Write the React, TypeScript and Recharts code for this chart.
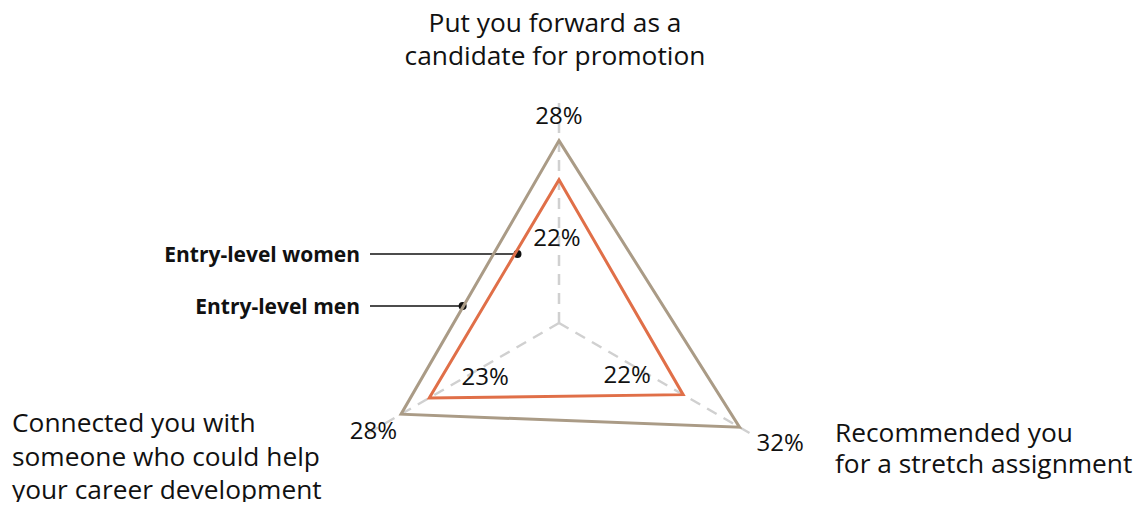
import React from 'react'
import { RadarChart, Radar, PolarGrid, PolarAngleAxis, PolarRadiusAxis } from 'recharts'

// categories (clockwise from top)
const categories = [
  ['Put you forward as a', 'candidate for promotion'],
  ['Recommended you', 'for a stretch assignment'],
  ['Connected you with', 'someone who could help', 'your career development'],
]
const menValues = [28, 32, 28]
const womenValues = [22, 22, 23]
const seriesNames = ['Entry-level women', 'Entry-level men']

const data = categories.map((c, i) => ({
  key: c.join(' '),
  men: menValues[i],
  women: womenValues[i],
}))

const W = 1130
const H = 502
const CX = 551
const CY = 315
const R = 228
const MAX = 35
const FONT = '"Open Sans", Lato, sans-serif'

const MEN = '#aa9b86'
const WOMEN = '#e06f48'

// same polar mapping as the chart (start 90deg, clockwise)
const polar = (value: number, index: number) => {
  const ang = ((90 - index * 120) * Math.PI) / 180
  const r = (value / MAX) * R
  return { x: CX + r * Math.cos(ang), y: CY - r * Math.sin(ang) }
}
const along = (vals: number[], a: number, b: number, t: number) => {
  const p = polar(vals[a], a)
  const q = polar(vals[b], b)
  return { x: p.x + (q.x - p.x) * t, y: p.y + (q.y - p.y) * t }
}

const tickPlace = [
  { x: 547, y: 24, anchor: 'middle', gap: 33 },
  { x: 827, y: 434, anchor: 'start', gap: 31 },
  { x: 4, y: 424, anchor: 'start', gap: 33.5 },
]

const AngleTick = ({ index }: any) => {
  const p = tickPlace[index]
  const lines = categories[index]
  return (
    <text x={p.x} y={p.y} textAnchor={p.anchor as any} fill="#111" fontSize={26.3} fontFamily={FONT}>
      {lines.map((l, i) => (
        <tspan key={i} x={p.x} dy={i === 0 ? 0 : p.gap}>
          {l}
        </tspan>
      ))}
    </text>
  )
}

const menOff = [
  { dx: 0, dy: -17, a: 'middle' },
  { dx: 17, dy: 24, a: 'start' },
  { dx: -4, dy: 25, a: 'end' },
]
const womenOff = [
  { dx: -2, dy: 66, a: 'middle' },
  { dx: -56, dy: -12, a: 'middle' },
  { dx: 56, dy: -13, a: 'middle' },
]

const valueLabel = (vals: number[], offs: any[]) => (props: any) => {
  const { cx, cy, index } = props
  const o = offs[index]
  return (
    <text key={index} x={cx + o.dx} y={cy + o.dy} textAnchor={o.a} fontSize={24} fill="#111" fontFamily={FONT}>
      {vals[index]}%
    </text>
  )
}

const App = () => {
  const wDot = along(womenValues, 0, 2, 0.32)
  const mDot = along(menValues, 0, 2, 0.61)
  return (
    <div style={{ width: W, height: H, marginBottom: -8 }}>
      <style>{'.recharts-surface{overflow:visible}'}</style>
      <RadarChart width={W} height={H} cx={CX} cy={CY} outerRadius={R} data={data} margin={{ top: 0, right: 0, bottom: 0, left: 0 }}>
        <PolarGrid gridType="polygon" polarRadius={[0]} stroke="#d0d0d0" strokeWidth={2.5} strokeDasharray="11 8" />
        <PolarAngleAxis dataKey="key" tick={<AngleTick />} tickLine={false} axisLine={false} />
        <PolarRadiusAxis domain={[0, MAX]} tick={false} axisLine={false} />
        <Radar dataKey="men" stroke={MEN} strokeWidth={3} fill="none" fillOpacity={0} isAnimationActive={false} dot={valueLabel(menValues, menOff)} />
        <Radar dataKey="women" stroke={WOMEN} strokeWidth={3} fill="none" fillOpacity={0} isAnimationActive={false} dot={valueLabel(womenValues, womenOff)} />
        <g>
          <text x={352} y={254} textAnchor="end" fontSize={21} fontWeight={700} fill="#111" fontFamily={FONT}>{seriesNames[0]}</text>
          <line x1={362} y1={246} x2={wDot.x} y2={246} stroke="#111" strokeWidth={1.5} />
          <circle cx={wDot.x} cy={246} r={4} fill="#111" />
          <text x={352} y={306} textAnchor="end" fontSize={21} fontWeight={700} fill="#111" fontFamily={FONT}>{seriesNames[1]}</text>
          <line x1={362} y1={298} x2={mDot.x} y2={298} stroke="#111" strokeWidth={1.5} />
          <circle cx={mDot.x} cy={298} r={4} fill="#111" />
        </g>
      </RadarChart>
    </div>
  )
}

export default App
